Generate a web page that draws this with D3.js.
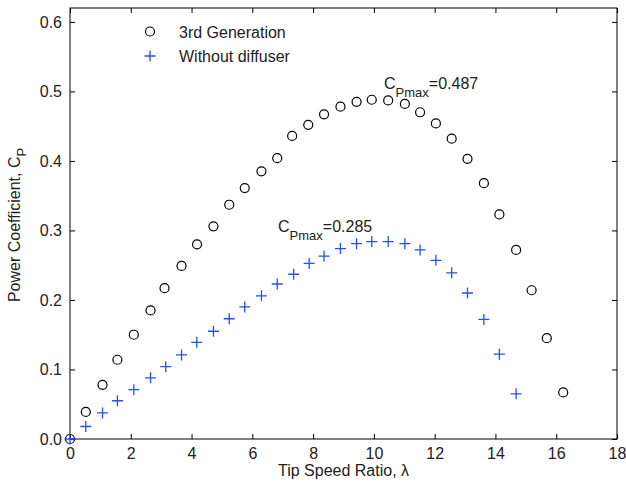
<!DOCTYPE html>
<html><head><meta charset="utf-8">
<script src="https://cdn.jsdelivr.net/npm/d3@7"></script>
<style>
body{margin:0;background:#fff;}
text{font-family:"Liberation Sans",Arial,sans-serif;fill:#222;}
</style></head>
<body><svg id="c" width="626" height="488"></svg>
<script>
const genX = [0,0.52,1.07,1.56,2.1,2.65,3.11,3.67,4.18,4.72,5.24,5.75,6.3,6.82,7.31,7.84,8.36,8.9,9.43,9.93,10.47,11.02,11.52,12.04,12.56,13.08,13.62,14.13,14.68,15.19,15.69,16.23];
const genY = [0,0.039,0.078,0.114,0.150,0.185,0.217,0.249,0.280,0.306,0.337,0.361,0.385,0.404,0.436,0.452,0.467,0.478,0.485,0.488,0.487,0.482,0.470,0.454,0.432,0.403,0.368,0.323,0.272,0.214,0.145,0.067];
const noDiffX = [0,0.52,1.07,1.56,2.1,2.65,3.15,3.67,4.17,4.72,5.24,5.75,6.3,6.82,7.36,7.87,8.36,8.9,9.43,9.93,10.47,11.02,11.52,12.04,12.56,13.08,13.62,14.13,14.68];
const noDiffY = [0,0.018,0.0375,0.055,0.071,0.088,0.104,0.121,0.139,0.155,0.173,0.190,0.206,0.223,0.237,0.2525,0.263,0.274,0.281,0.284,0.284,0.281,0.272,0.257,0.239,0.210,0.172,0.122,0.065];
const xTicks = [0,2,4,6,8,10,12,14,16,18];
const yTicks = [0,0.1,0.2,0.3,0.4,0.5,0.6];
const legendLabels = ["3rd Generation","Without diffuser"];
const annotations = [{text:"=0.487"},{text:"=0.285"}];

const svg = d3.select("#c");
const L=70,R=617,T=8,B=439;
const x = d3.scaleLinear().domain([0,18]).range([L,R]);
const y = d3.scaleLinear().domain([0,0.62]).range([B,T]);
const blue = "#1f4fff";

const tl=5;
const g = svg.append("g");
g.append("g").attr("transform",`translate(0,${B})`)
 .call(d3.axisBottom(x).tickValues(xTicks).tickSize(-tl).tickPadding(9).tickFormat(d3.format("d")))
 .call(s=>{s.select(".domain").remove();s.selectAll("text").attr("font-size",16).attr("fill","#222");});
g.append("g").attr("transform",`translate(0,${T})`)
 .call(d3.axisTop(x).tickValues(xTicks).tickSize(-tl).tickFormat(""))
 .call(s=>s.select(".domain").remove());
g.append("g").attr("transform",`translate(${L},0)`)
 .call(d3.axisLeft(y).tickValues(yTicks).tickSize(-tl).tickPadding(8).tickFormat(d3.format(".1f")))
 .call(s=>{s.select(".domain").remove();s.selectAll("text").attr("font-size",16).attr("fill","#222");});
g.append("g").attr("transform",`translate(${R},0)`)
 .call(d3.axisRight(y).tickValues(yTicks).tickSize(-tl).tickFormat(""))
 .call(s=>s.select(".domain").remove());
svg.append("rect").attr("x",L).attr("y",T).attr("width",R-L).attr("height",B-T)
 .attr("fill","none").attr("stroke","#000").attr("stroke-width",1);

svg.append("g").selectAll("circle").data(genX.map((v,i)=>[v,genY[i]])).join("circle")
 .attr("cx",d=>x(d[0])).attr("cy",d=>y(d[1])).attr("r",4.5)
 .attr("fill","none").attr("stroke","#000").attr("stroke-width",1.2);
function drawPlus(sel,cx,cy,s){
  sel.append("path").attr("d",`M${cx-s},${cy}H${cx+s}M${cx},${cy-s}V${cy+s}`)
   .attr("stroke",blue).attr("stroke-width",1.3).attr("fill","none");
}
const pg = svg.append("g");
noDiffX.forEach((v,i)=>drawPlus(pg,x(v),y(noDiffY[i]),5.5));

svg.append("circle").attr("cx",150).attr("cy",31.5).attr("r",4.5).attr("fill","none").attr("stroke","#000").attr("stroke-width",1.2);
drawPlus(svg,150,56,5.5);
svg.append("text").attr("x",179).attr("y",38).attr("font-size",16).text(legendLabels[0]);
svg.append("text").attr("x",179).attr("y",62).attr("font-size",16).text(legendLabels[1]);

const annPos=[[384,88.5],[278,232]];
annotations.forEach((a,i)=>{
  const t = svg.append("text").attr("x",annPos[i][0]).attr("y",annPos[i][1]).attr("font-size",16);
  t.append("tspan").text("C");
  t.append("tspan").attr("font-size",13).attr("dy",8).text("Pmax");
  t.append("tspan").attr("dy",-8).text(a.text);
});

svg.append("text").attr("x",(L+R)/2).attr("y",476).attr("text-anchor","middle").attr("font-size",16).text("Tip Speed Ratio, λ");
const yl = svg.append("text").attr("transform","translate(20,225) rotate(-90)").attr("text-anchor","middle").attr("font-size",16);
yl.append("tspan").text("Power Coefficient, C");
yl.append("tspan").attr("font-size",13).attr("dy",6).text("P");
</script></body></html>
